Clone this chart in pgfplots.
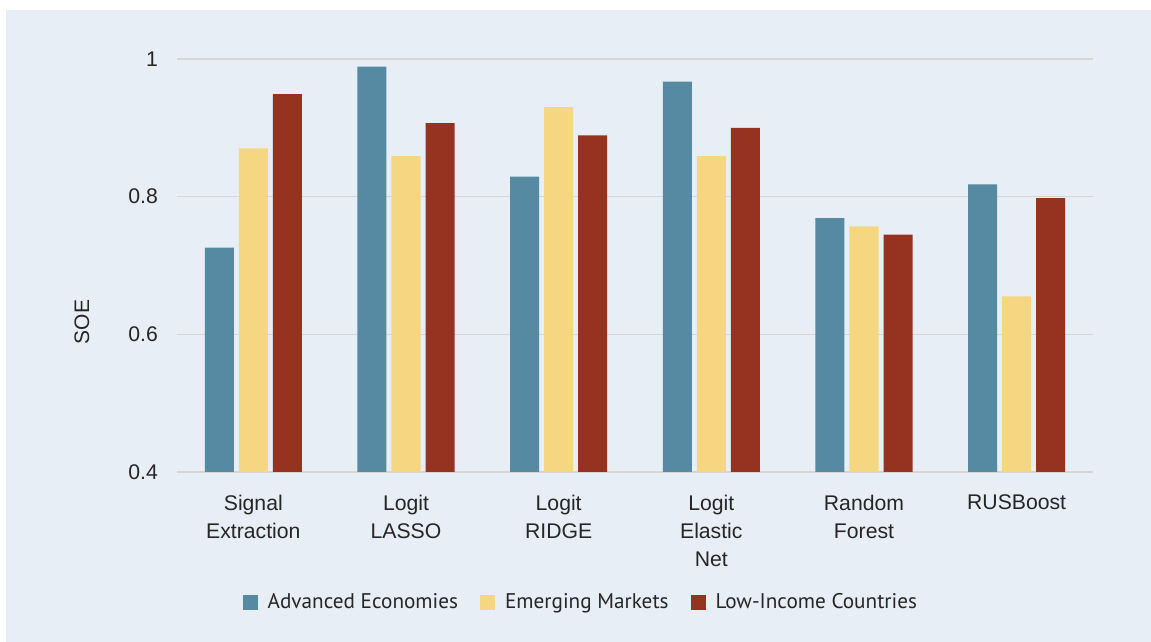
\documentclass[border=0pt]{standalone}
\usepackage{fontspec}
\setmainfont{Liberation Sans}
\newfontfamily\legfont{PT Sans}
\usepackage{pgfplots}
\pgfplotsset{compat=1.18}
\definecolor{advblue}{HTML}{5689A2}
\definecolor{emgyellow}{HTML}{F5D782}
\definecolor{lowred}{HTML}{963220}
\definecolor{panelbg}{HTML}{E7EEF5}
\definecolor{gridgrey}{HTML}{D6D6D6}
\begin{document}
\begin{tikzpicture}
% page frame: 1151x642 px at 0.5pt per px, axis box origin at px (177,472)
\useasboundingbox (-88.5pt,-85pt) rectangle (487pt,236pt);
\fill[white] (-88.5pt,-85pt) rectangle (487pt,236pt);
\fill[panelbg] (-85.5pt,-85pt) rectangle (487pt,231pt);
\begin{axis}[
  at={(0,0)}, anchor=south west,
  scale only axis, width=458pt, height=206.5pt,
  xmin=-0.5, xmax=5.5, ymin=0.4, ymax=1,
  xtick={0,1,2,3,4,5},
  xticklabels={{Signal\\Extraction},{Logit\\LASSO},{Logit\\RIDGE},{Logit\\Elastic\\Net},{Random\\Forest},{RUSBoost}},
  ytick={0.4,0.6,0.8,1},
  yticklabels={0.4,0.6,0.8,1},
  axis line style={draw=none},
  major tick length=0pt,
  ymajorgrids, grid style={gridgrey, line width=0.8pt},
  tick label style={font=\fontsize{10.6}{14}\selectfont, text=black!85},
  xticklabel style={align=center, anchor=north, yshift=-8pt},
  yticklabel style={anchor=east, xshift=-6pt},
  ylabel={SOE},
  every axis y label/.style={at={(axis description cs:-0.1037,0.363)}, rotate=90, anchor=center, font=\fontsize{10.5}{12}\selectfont, text=black!85},
  legend columns=3,
  legend style={at={(axis description cs:0.442,-0.317)}, anchor=center, draw=none, fill=none,
    font=\legfont\fontsize{10.6}{13}\selectfont, text=black!85,
    /tikz/every odd column/.append style={column sep=3pt},
    /tikz/every even column/.append style={column sep=9pt}},
  legend image code/.code={\fill[#1] (0pt,-3.75pt) rectangle (7.5pt,3.75pt);},
]
\addplot[ybar, fill=advblue, draw=none, bar width=0.19, bar shift=-0.223] coordinates {
  (0,0.726) (1,0.989) (2,0.829) (3,0.967) (4,0.769) (5,0.818)};
\addlegendentry{Advanced Economies}
\addplot[ybar, fill=emgyellow, draw=none, bar width=0.19, bar shift=0] coordinates {
  (0,0.870) (1,0.859) (2,0.930) (3,0.859) (4,0.757) (5,0.655)};
\addlegendentry{Emerging Markets}
\addplot[ybar, fill=lowred, draw=none, bar width=0.19, bar shift=0.223] coordinates {
  (0,0.949) (1,0.907) (2,0.889) (3,0.900) (4,0.745) (5,0.798)};
\addlegendentry{Low-Income Countries}
\end{axis}
\end{tikzpicture}
\end{document}
